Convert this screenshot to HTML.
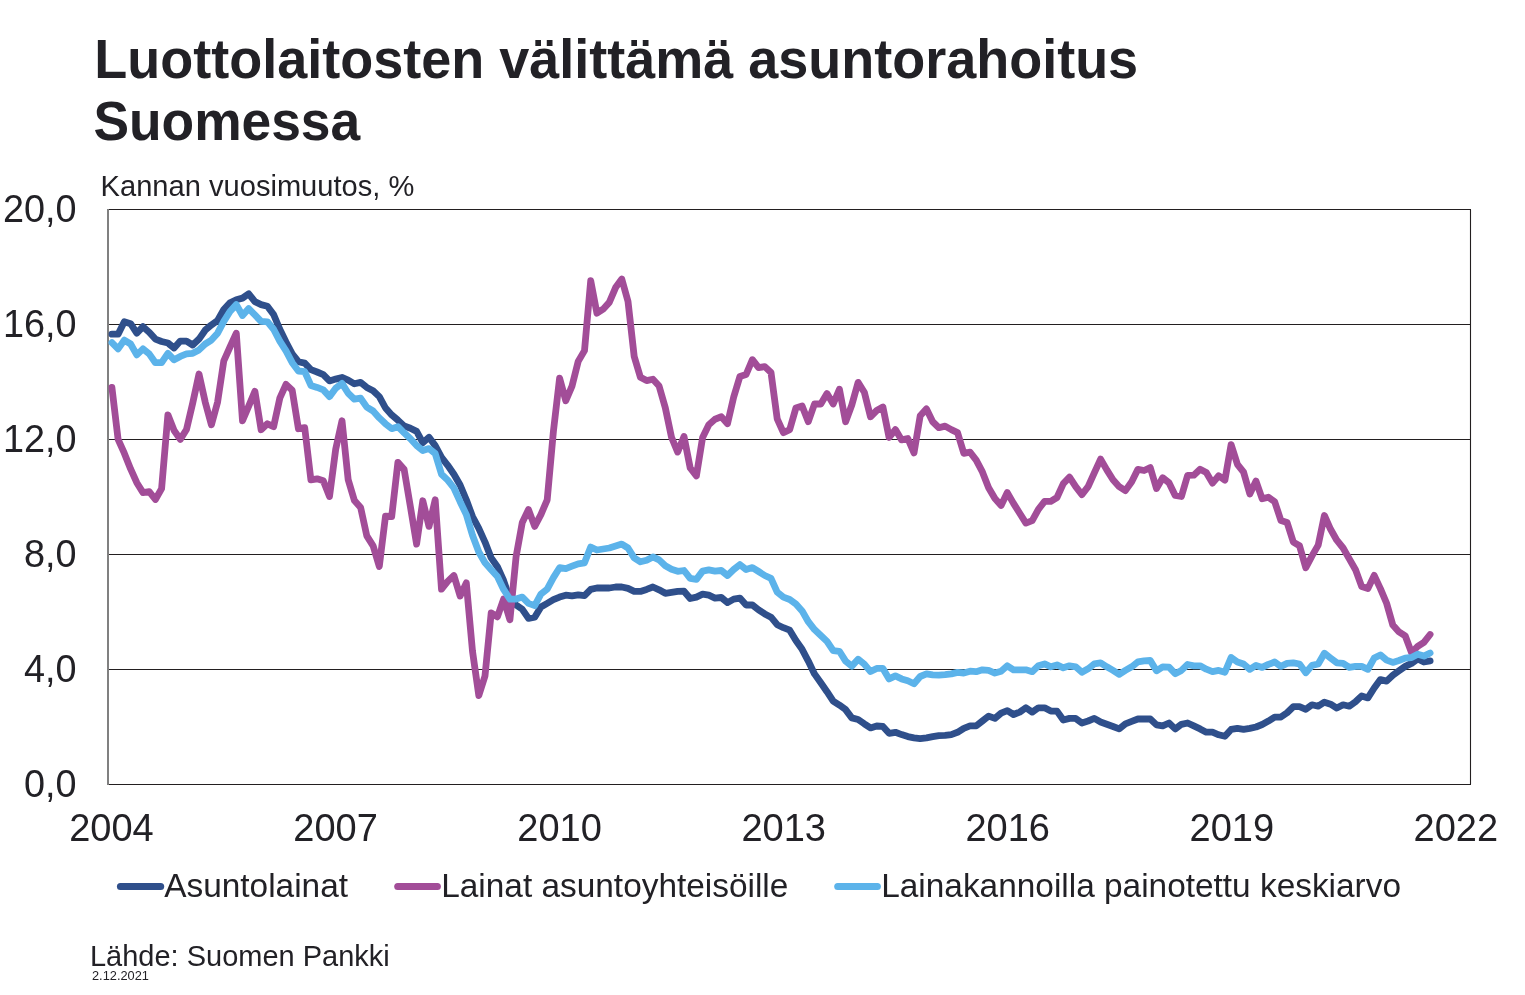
<!DOCTYPE html>
<html><head><meta charset="utf-8"><title>Luottolaitosten välittämä asuntorahoitus Suomessa</title>
<style>html,body{margin:0;padding:0;background:#fff}body{width:1525px;height:995px;overflow:hidden}svg{display:block;will-change:transform}text{font-family:"Liberation Sans",sans-serif;fill:#222126}</style></head><body>
<svg width="1525" height="995" viewBox="0 0 1525 995">
<rect width="1525" height="995" fill="#fff"/>
<text transform="translate(94.3,77.8) scale(1,1.012)" font-size="54" font-weight="bold">Luottolaitosten välittämä asuntorahoitus</text>
<text transform="translate(93.4,140.0) scale(1,1.012)" font-size="54" font-weight="bold" textLength="266.8" lengthAdjust="spacingAndGlyphs">Suomessa</text>
<text transform="translate(100.6,195.6) scale(1,1.012)" font-size="29.1">Kannan vuosimuutos, %</text>
<line x1="108.0" x2="1471.0" y1="209.5" y2="209.5" stroke="#231f20" stroke-width="1.1"/>
<line x1="108.0" x2="1471.0" y1="324.5" y2="324.5" stroke="#231f20" stroke-width="1.1"/>
<line x1="108.0" x2="1471.0" y1="439.5" y2="439.5" stroke="#231f20" stroke-width="1.1"/>
<line x1="108.0" x2="1471.0" y1="554.5" y2="554.5" stroke="#231f20" stroke-width="1.1"/>
<line x1="108.0" x2="1471.0" y1="669.5" y2="669.5" stroke="#231f20" stroke-width="1.1"/>
<line x1="108.0" x2="1471.0" y1="784.5" y2="784.5" stroke="#231f20" stroke-width="1.1"/>
<line x1="1470.5" x2="1470.5" y1="209.5" y2="784.5" stroke="#231f20" stroke-width="1.1"/>
<line x1="108.0" x2="108.0" y1="209.0" y2="785.0" stroke="#808080" stroke-width="2"/>
<text transform="translate(76.6,221.7) scale(1,1.04)" font-size="37.8" text-anchor="end">20,0</text>
<text transform="translate(76.6,336.7) scale(1,1.04)" font-size="37.8" text-anchor="end">16,0</text>
<text transform="translate(76.6,451.7) scale(1,1.04)" font-size="37.8" text-anchor="end">12,0</text>
<text transform="translate(76.6,566.7) scale(1,1.04)" font-size="37.8" text-anchor="end">8,0</text>
<text transform="translate(76.6,681.7) scale(1,1.04)" font-size="37.8" text-anchor="end">4,0</text>
<text transform="translate(76.6,796.7) scale(1,1.04)" font-size="37.8" text-anchor="end">0,0</text>
<text transform="translate(111.5,841.3) scale(1,1.04)" font-size="38" text-anchor="middle">2004</text>
<text transform="translate(335.6,841.3) scale(1,1.04)" font-size="38" text-anchor="middle">2007</text>
<text transform="translate(559.6,841.3) scale(1,1.04)" font-size="38" text-anchor="middle">2010</text>
<text transform="translate(783.7,841.3) scale(1,1.04)" font-size="38" text-anchor="middle">2013</text>
<text transform="translate(1007.7,841.3) scale(1,1.04)" font-size="38" text-anchor="middle">2016</text>
<text transform="translate(1231.8,841.3) scale(1,1.04)" font-size="38" text-anchor="middle">2019</text>
<text transform="translate(1455.8,841.3) scale(1,1.04)" font-size="38" text-anchor="middle">2022</text>
<polyline fill="none" stroke="#2f4f8b" stroke-width="6.8" stroke-linejoin="round" stroke-linecap="round" points="111.9,334.2 118.1,334.2 124.3,321.8 130.6,323.7 136.8,333.2 143.0,326.7 149.2,332.2 155.4,339.1 161.6,341.5 167.9,343.0 174.1,348.0 180.3,341.1 186.5,341.1 192.7,345.0 199.0,339.1 205.2,330.2 211.4,324.9 217.6,320.4 223.8,309.5 230.0,302.7 236.3,299.7 242.5,298.1 248.7,293.8 254.9,301.7 261.1,304.6 267.4,306.2 273.6,314.5 279.8,329.2 286.0,342.0 292.2,353.9 298.4,361.7 304.7,363.1 310.9,369.6 317.1,372.0 323.3,374.6 329.5,380.9 335.7,379.1 342.0,377.5 348.2,380.1 354.4,383.8 360.6,382.4 366.8,387.4 373.1,390.7 379.3,396.6 385.5,408.0 391.7,414.9 397.9,420.2 404.1,425.9 410.4,428.3 416.6,431.4 422.8,442.7 429.0,437.3 435.2,445.6 441.5,457.4 447.7,465.3 453.9,474.2 460.1,485.0 466.3,499.8 472.5,516.5 478.8,528.3 485.0,542.1 491.2,557.9 497.4,566.7 503.6,580.5 509.9,599.1 516.1,605.0 522.3,609.3 528.5,618.4 534.7,617.2 540.9,607.0 547.2,603.4 553.4,599.7 559.6,597.1 565.8,595.2 572.0,595.9 578.2,594.9 584.5,595.7 590.7,589.4 596.9,588.0 603.1,588.0 609.3,588.0 615.6,587.0 621.8,587.0 628.0,588.4 634.2,591.4 640.4,591.4 646.6,589.4 652.9,587.0 659.1,589.8 665.3,593.3 671.5,592.4 677.7,591.4 684.0,591.2 690.2,598.5 696.4,597.1 702.6,594.2 708.8,595.2 715.0,598.1 721.3,597.5 727.5,602.6 733.7,599.1 739.9,598.1 746.1,605.0 752.4,605.0 758.6,609.9 764.8,613.9 771.0,617.2 777.2,624.7 783.4,627.7 789.7,630.2 795.9,640.5 802.1,649.3 808.3,661.1 814.5,673.9 820.8,682.8 827.0,691.7 833.2,701.2 839.4,705.1 845.6,709.6 851.8,717.9 858.1,719.5 864.3,723.8 870.5,727.9 876.7,726.0 882.9,726.4 889.1,733.3 895.4,732.3 901.6,734.6 907.8,736.6 914.0,737.8 920.2,738.6 926.5,737.8 932.7,736.6 938.9,735.6 945.1,735.4 951.3,734.6 957.5,732.3 963.8,728.3 970.0,725.9 976.2,725.9 982.4,721.0 988.6,716.1 994.9,718.4 1001.1,713.1 1007.3,710.6 1013.5,714.5 1019.7,712.1 1025.9,707.8 1032.2,712.1 1038.4,707.8 1044.6,707.8 1050.8,711.1 1057.0,711.1 1063.3,720.0 1069.5,718.4 1075.7,718.4 1081.9,723.0 1088.1,721.0 1094.3,718.4 1100.6,722.0 1106.8,724.3 1113.0,726.5 1119.2,728.9 1125.4,723.9 1131.7,721.4 1137.9,719.0 1144.1,719.0 1150.3,719.0 1156.5,724.9 1162.7,725.9 1169.0,723.0 1175.2,728.9 1181.4,724.3 1187.6,723.0 1193.8,725.9 1200.1,728.9 1206.3,732.2 1212.5,732.2 1218.7,734.8 1224.9,736.3 1231.1,729.4 1237.4,728.4 1243.6,729.4 1249.8,728.4 1256.0,727.0 1262.2,724.5 1268.4,721.1 1274.7,717.2 1280.9,717.0 1287.1,712.7 1293.3,706.7 1299.5,706.7 1305.8,709.3 1312.0,704.8 1318.2,706.2 1324.4,702.2 1330.6,704.2 1336.8,708.1 1343.1,704.8 1349.3,706.2 1355.5,701.8 1361.7,695.9 1367.9,697.9 1374.2,688.0 1380.4,679.6 1386.6,681.1 1392.8,675.2 1399.0,670.7 1405.2,666.4 1411.5,663.4 1417.7,658.9 1423.9,662.0 1430.1,660.9"/>
<polyline fill="none" stroke="#a24d98" stroke-width="6.8" stroke-linejoin="round" stroke-linecap="round" points="111.9,387.4 118.1,439.4 124.3,453.2 130.6,468.9 136.8,482.7 143.0,492.6 149.2,491.6 155.4,499.5 161.6,488.6 167.9,414.8 174.1,430.5 180.3,439.4 186.5,429.5 192.7,403.1 199.0,374.0 205.2,402.1 211.4,424.8 217.6,402.1 223.8,360.8 230.0,347.0 236.3,333.2 242.5,420.8 248.7,406.1 254.9,391.3 261.1,429.7 267.4,423.8 273.6,426.7 279.8,398.2 286.0,384.4 292.2,390.3 298.4,428.7 304.7,427.7 310.9,479.8 317.1,478.8 323.3,480.8 329.5,496.5 335.7,449.2 342.0,420.7 348.2,479.8 354.4,500.5 360.6,507.4 366.8,535.9 373.1,545.8 379.3,566.4 385.5,516.2 391.7,516.5 397.9,462.4 404.1,469.2 410.4,506.7 416.6,544.1 422.8,500.8 429.0,526.4 435.2,499.8 441.5,589.2 447.7,581.4 453.9,575.5 460.1,596.1 466.3,582.9 472.5,651.3 478.8,695.6 485.0,675.9 491.2,612.9 497.4,616.8 503.6,599.1 509.9,619.8 516.1,556.7 522.3,522.4 528.5,509.6 534.7,526.4 540.9,514.6 547.2,499.8 553.4,431.4 559.6,378.2 565.8,400.8 572.0,386.1 578.2,361.4 584.5,350.6 590.7,280.7 596.9,313.2 603.1,309.2 609.3,302.4 615.6,287.6 621.8,279.1 628.0,301.4 634.2,356.5 640.4,377.2 646.6,380.6 652.9,379.2 659.1,386.1 665.3,407.7 671.5,437.3 677.7,452.1 684.0,436.5 690.2,468.0 696.4,475.9 702.6,437.5 708.8,424.7 715.0,419.2 721.3,416.8 727.5,423.7 733.7,397.1 739.9,376.4 746.1,374.5 752.4,359.7 758.6,367.6 764.8,366.6 771.0,372.5 777.2,418.8 783.4,432.6 789.7,429.6 795.9,408.0 802.1,406.0 808.3,421.7 814.5,404.0 820.8,404.0 827.0,393.6 833.2,404.0 839.4,389.2 845.6,421.7 851.8,405.0 858.1,382.4 864.3,392.2 870.5,416.8 876.7,410.5 882.9,407.0 889.1,437.5 895.4,429.6 901.6,439.9 907.8,438.5 914.0,452.9 920.2,415.8 926.5,408.9 932.7,421.7 938.9,427.7 945.1,426.1 951.3,429.6 957.5,432.6 963.8,453.3 970.0,452.2 976.2,460.1 982.4,471.9 988.6,487.7 994.9,498.5 1001.1,505.4 1007.3,492.6 1013.5,503.4 1019.7,513.3 1025.9,523.1 1032.2,520.6 1038.4,509.3 1044.6,501.4 1050.8,501.4 1057.0,497.5 1063.3,483.7 1069.5,477.2 1075.7,486.7 1081.9,494.6 1088.1,486.7 1094.3,472.9 1100.6,459.1 1106.8,469.9 1113.0,479.8 1119.2,486.7 1125.4,490.6 1131.7,481.7 1137.9,469.3 1144.1,470.5 1150.3,467.6 1156.5,488.6 1162.7,477.8 1169.0,482.7 1175.2,495.5 1181.4,496.5 1187.6,475.4 1193.8,475.2 1200.1,469.3 1206.3,472.5 1212.5,483.1 1218.7,475.8 1224.9,480.1 1231.1,444.6 1237.4,464.3 1243.6,472.2 1249.8,493.9 1256.0,481.1 1262.2,498.8 1268.4,497.2 1274.7,501.7 1280.9,520.5 1287.1,522.4 1293.3,542.1 1299.5,545.7 1305.8,567.7 1312.0,555.9 1318.2,545.1 1324.4,515.5 1330.6,529.3 1336.8,540.2 1343.1,548.0 1349.3,558.9 1355.5,569.7 1361.7,586.6 1367.9,588.6 1374.2,575.4 1380.4,588.6 1386.6,603.3 1392.8,625.0 1399.0,631.9 1405.2,635.8 1411.5,652.6 1417.7,646.3 1423.9,642.3 1430.1,634.5"/>
<polyline fill="none" stroke="#5cb3ea" stroke-width="6.8" stroke-linejoin="round" stroke-linecap="round" points="111.9,342.6 118.1,348.9 124.3,340.1 130.6,344.0 136.8,354.9 143.0,348.9 149.2,353.9 155.4,362.7 161.6,362.7 167.9,353.3 174.1,359.8 180.3,356.4 186.5,353.9 192.7,353.3 199.0,349.9 205.2,344.0 211.4,340.1 217.6,333.2 223.8,321.4 230.0,311.5 236.3,304.6 242.5,315.5 248.7,308.6 254.9,314.9 261.1,321.4 267.4,321.8 273.6,329.2 279.8,341.1 286.0,350.9 292.2,362.7 298.4,371.0 304.7,371.6 310.9,385.4 317.1,387.4 323.3,389.9 329.5,396.6 335.7,388.3 342.0,383.4 348.2,393.3 354.4,399.2 360.6,398.2 366.8,407.1 373.1,411.0 379.3,417.9 385.5,423.8 391.7,428.7 397.9,426.7 404.1,432.8 410.4,438.7 416.6,445.6 422.8,450.5 429.0,448.6 435.2,453.5 441.5,474.2 447.7,480.1 453.9,488.0 460.1,501.7 466.3,514.6 472.5,535.2 478.8,552.0 485.0,562.8 491.2,569.7 497.4,576.6 503.6,589.4 509.9,599.1 516.1,599.1 522.3,597.1 528.5,603.4 534.7,605.6 540.9,594.2 547.2,589.2 553.4,577.6 559.6,567.7 565.8,568.7 572.0,566.2 578.2,563.8 584.5,562.8 590.7,547.1 596.9,550.0 603.1,549.0 609.3,548.0 615.6,546.1 621.8,544.1 628.0,548.0 634.2,557.9 640.4,561.8 646.6,560.2 652.9,556.9 659.1,559.9 665.3,565.8 671.5,569.3 677.7,571.3 684.0,570.5 690.2,578.4 696.4,579.4 702.6,571.1 708.8,569.9 715.0,571.1 721.3,570.5 727.5,575.5 733.7,569.5 739.9,564.6 746.1,569.5 752.4,567.6 758.6,571.5 764.8,575.5 771.0,578.4 777.2,592.2 783.4,597.1 789.7,599.5 795.9,604.0 802.1,610.9 808.3,621.7 814.5,629.6 820.8,635.5 827.0,641.4 833.2,650.7 839.4,651.3 845.6,661.1 851.8,666.1 858.1,659.2 864.3,664.1 870.5,671.6 876.7,668.4 882.9,668.4 889.1,678.9 895.4,675.9 901.6,678.9 907.8,680.8 914.0,683.8 920.2,676.5 926.5,673.9 932.7,674.9 938.9,675.1 945.1,674.7 951.3,673.9 957.5,672.4 963.8,673.0 970.0,671.2 976.2,671.7 982.4,669.8 988.6,670.4 994.9,673.1 1001.1,671.2 1007.3,665.8 1013.5,669.8 1019.7,669.8 1025.9,669.8 1032.2,671.7 1038.4,665.8 1044.6,663.9 1050.8,666.8 1057.0,664.9 1063.3,667.8 1069.5,665.8 1075.7,666.8 1081.9,672.3 1088.1,668.8 1094.3,663.9 1100.6,662.9 1106.8,666.8 1113.0,670.4 1119.2,674.3 1125.4,670.4 1131.7,666.8 1137.9,661.9 1144.1,660.9 1150.3,660.5 1156.5,670.8 1162.7,666.8 1169.0,667.2 1175.2,673.7 1181.4,670.4 1187.6,664.5 1193.8,665.8 1200.1,665.8 1206.3,669.2 1212.5,671.7 1218.7,670.4 1224.9,672.3 1231.1,657.5 1237.4,662.0 1243.6,664.0 1249.8,669.3 1256.0,665.4 1262.2,667.4 1268.4,664.4 1274.7,662.0 1280.9,666.4 1287.1,663.4 1293.3,662.8 1299.5,664.0 1305.8,672.7 1312.0,665.4 1318.2,664.0 1324.4,653.2 1330.6,658.1 1336.8,662.8 1343.1,663.4 1349.3,667.4 1355.5,666.4 1361.7,666.4 1367.9,669.3 1374.2,658.1 1380.4,654.9 1386.6,660.1 1392.8,662.4 1399.0,660.5 1405.2,658.1 1411.5,657.5 1417.7,654.2 1423.9,656.1 1430.1,653.0"/>
<line x1="120.4" x2="160.7" y1="886.5" y2="886.5" stroke="#2f4f8b" stroke-width="7" stroke-linecap="round"/>
<text transform="translate(164.2,897.0) scale(1,1.012)" font-size="33.4">Asuntolainat</text>
<line x1="397.7" x2="437.4" y1="886.5" y2="886.5" stroke="#a24d98" stroke-width="7" stroke-linecap="round"/>
<text transform="translate(441.2,897.0) scale(1,1.012)" font-size="33.4">Lainat asuntoyhteisöille</text>
<line x1="837.7" x2="877.4" y1="886.5" y2="886.5" stroke="#5cb3ea" stroke-width="7" stroke-linecap="round"/>
<text transform="translate(881.2,897.0) scale(1,1.012)" font-size="33.4">Lainakannoilla painotettu keskiarvo</text>
<text transform="translate(90.0,965.8) scale(1,1.012)" font-size="29" fill="#000">Lähde: Suomen Pankki</text>
<text transform="translate(92.0,980.0) scale(1,1.012)" font-size="12.8" fill="#000">2.12.2021</text>
</svg></body></html>
